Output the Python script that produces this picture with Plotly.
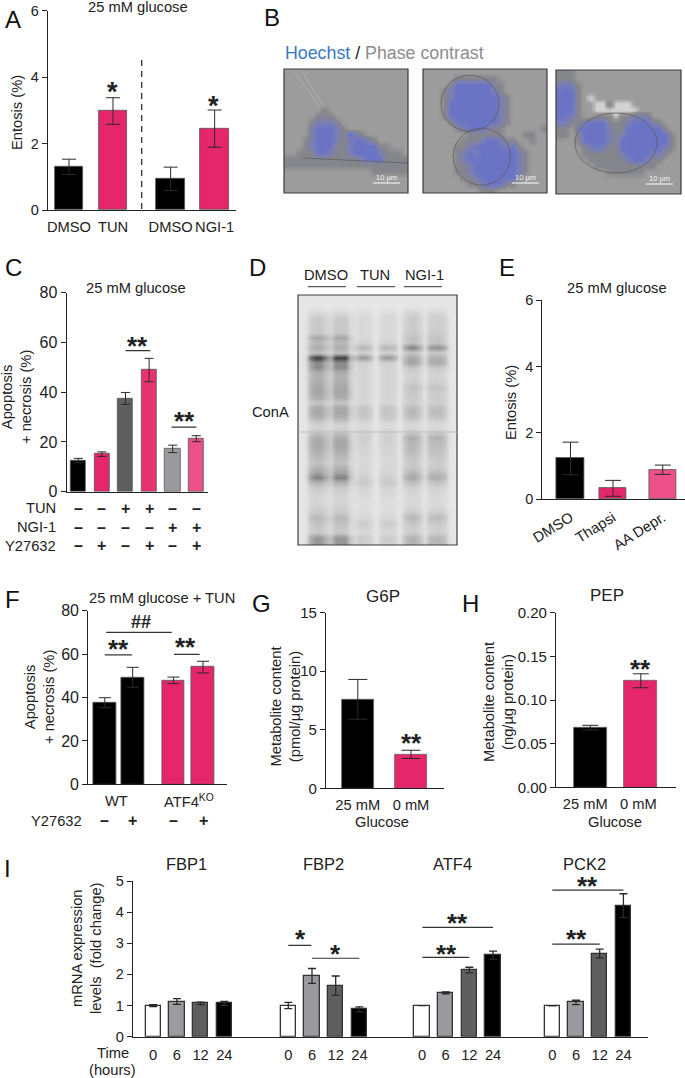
import plotly.graph_objects as go

W, H = 685, 1078
FS = 14.7
FONT = "Liberation Sans, Arial, sans-serif"
INK = "#222222"
PINK = "#E6266A"
PINK2 = "#EC5088"
GREY_D = "#5F5F5F"
GREY_L = "#9B9B9F"

# ---------- data ----------
A_labels = ["DMSO", "TUN", "DMSO", "NGI-1"]
A_values = [1.3, 2.98, 0.94, 2.45]
A_err = [0.23, 0.4, 0.35, 0.56]

C_values = [12.5, 15.1, 37.5, 48.9, 17.2, 21.3]
C_err = [0.9, 0.9, 2.4, 4.7, 1.5, 1.2]
C_TUN = ["–", "–", "+", "+", "–", "–"]
C_NGI = ["–", "–", "–", "–", "+", "+"]
C_Y27 = ["–", "+", "–", "+", "–", "+"]

E_labels = ["DMSO", "Thapsi", "AA Depr."]
E_values = [1.23, 0.33, 0.89]
E_err = [0.49, 0.24, 0.14]

F_values = [37.6, 49.3, 47.9, 54.0]
F_err = [2.3, 4.6, 1.5, 2.7]
F_Y27 = ["–", "+", "–", "+"]

G_labels = ["25 mM", "0 mM"]
G_values = [7.6, 2.9]
G_err = [1.7, 0.35]

H_labels = ["25 mM", "0 mM"]
H_values = [0.0683, 0.122]
H_err = [0.0027, 0.008]

I_times = ["0", "6", "12", "24"]
I_genes = ["FBP1", "FBP2", "ATF4", "PCK2"]
I_FBP1 = [1.0, 1.13, 1.07, 1.07]
I_FBP1_err = [0.03, 0.09, 0.04, 0.06]
I_FBP2 = [1.0, 1.95, 1.64, 0.88]
I_FBP2_err = [0.1, 0.24, 0.31, 0.08]
I_ATF4 = [1.0, 1.41, 2.14, 2.62]
I_ATF4_err = [0.0, 0.03, 0.09, 0.13]
I_PCK2 = [0.99, 1.1, 2.67, 4.21]
I_PCK2_err = [0.0, 0.07, 0.14, 0.38]

# blot: darkness of the lane groups, top to bottom
BLOT_DMSO = [0, 0, .02, .1, .18, .2, .2, .2, .42, .3, .38, .25, .9, .55, .55, .38, .35, .38, .42, .42,
             .38, .22, .4, .42, .35, .18, .12, .25, .38, .42, .4, .35, .3, .25, .35, .45, .6, .35, .2, .15,
             .12, .12, .15, .2, .3, .25, .2, .2, .5, .5]
BLOT_TUN = [0, 0, .02, .06, .1, .1, .1, .1, .1, .14, .32, .14, .5, .15, .12, .12, .12, .12, .12, .12,
            .12, .1, .22, .22, .2, .1, .08, .15, .15, .15, .12, .12, .1, .1, .1, .12, .15, .2, .12, .1,
            .08, .06, .06, .08, .1, .18, .14, .1, .18, .18]
BLOT_NGI = [0, 0, .03, .12, .18, .18, .18, .2, .25, .25, .6, .22, .4, .45, .22, .15, .15, .18, .25, .2,
            .2, .18, .28, .32, .25, .12, .1, .22, .38, .32, .3, .28, .22, .2, .22, .32, .42, .25, .15, .12,
            .1, .1, .12, .2, .32, .22, .18, .18, .35, .35]
BLOT_COL_WEIGHT = [0, .1, .8, 1, 1, .7, .5, 1, 1, 1, .4,
                   .6, 1, 1, .7, .05, .7, 1, 1, .8, .1,
                   .7, 1, 1, .7, .2, .8, .9, .9, .7, .1, 0]

# micrographs, as coarse tone maps
MICRO_1 = ["....................", "....................", "....................", "....................",
           "....................", "....................", "......o.............", ".....ooo............",
           "....obbbo...........", "....bBBBbo..........", "....bBBBboBbo.......", "...obBBBbobBBbo.....",
           "...obBBBoobBBBBoo...", "..oooBBboobBBBBbooo.", "oooooooooooobBBBoooo", "oooooooooooooooooooo",
           "..............oooooo", "....................", "....................", "...................."]
MICRO_2 = ["....................", ".....ooooooo........", "....oBBBBBBoo.......", "...obBBBBBBbo.......",
           "...obBBBBBBBbo......", "...oBBBBBBBBbo......", "...oBBBBBBBBbo......", "...oBBBBBBBBbo......",
           "....oBBBBBBBbo......", ".....obBBBboo......o", ".......oooooo...oo..", "......ooobBBboo..o..",
           ".....oobBBBBBbBo....", ".....obBbBBBBBBbo...", ".....obBBBBBBBBbo...", ".....oobBBBBBBBbo...",
           ".....oobBBBBBBBbo...", "......oobBBBBBBo....", ".......oobBBBoo.....", ".........ooo........"]
MICRO_3 = ["ooo.................", "ooo.................", "bBbo................", "BBBo................",
           "BBBo.+..............", "BBBo..++o+++........", "BBBo..+++++++.......", "BBbo..ooo+oobbb.....",
           "bboobBBBooobBBBbo...", "oo.bBBBBbooBBBBBBo..", "oo.oBBBBbobBBBBBBBo.", "...oBBBBboBBBBBBBBo.",
           "....obBbooBBBBBBBbo.", "....oooooobBBBBbbo..", ".....oooooobBBboo...", "......oooooooooo....",
           "........oooooo......", "....................", "....................", "...................."]
TONE = {"+": 0.0, ".": 0.2, "o": 0.45, "b": 0.75, "B": 1.0}

# ---------- helpers ----------
fig = go.Figure()
axis_no = [0]
annos, shapes = [], []


def fx(px):
    return px / W


def fy(py):
    return 1 - py / H


def txt(px, py, text, size=FS, angle=0, color=INK, xa="center"):
    annos.append(dict(x=fx(px), y=fy(py), xref="paper", yref="paper", text=text, showarrow=False,
                      xanchor=xa, yanchor="middle", textangle=angle,
                      font=dict(size=size, color=color, family="Liberation Sans")))


def star(px, py, text="**", size=26):
    txt(px, py + 0.13 * size, f"<b>{text}</b>", size=size)


def letter(px, py, text):
    txt(px, py, text, size=24, color="#111111")


def rim_ellipse(cx, cy, rx, ry, color="#5A5A5A", width=1):
    shapes.append(dict(type="circle", xref="paper", yref="paper", x0=fx(cx - rx), x1=fx(cx + rx),
                       y0=fy(cy + ry), y1=fy(cy - ry), line=dict(color=color, width=width), opacity=0.7))


def rim_line(x0, y0, x1, y1, color="#5A5A5A", width=1):
    shapes.append(dict(type="line", xref="paper", yref="paper", x0=fx(x0), x1=fx(x1), y0=fy(y0), y1=fy(y1),
                       line=dict(color=color, width=width), opacity=0.7))


def new_axes(L, R, T, B):
    axis_no[0] += 1
    n = axis_no[0]
    sx = "" if n == 1 else str(n)
    return (n, sx, dict(domain=[fx(L), fx(R)], anchor="y" + sx, automargin=False),
            dict(domain=[fy(B), fy(T)], anchor="x" + sx, automargin=False))


def bar_panel(L, R, T, B, x0, unit, bar_px, slots, values, err, colors, yrange, yticks, yticktext,
              cap, ticks=None, ticklabels=None, tickangle=0, line="#555555", line_w=0.8, err_w=1.0,
              yfont=14.5, ticklen=3):
    n, sx, xa, ya = new_axes(L, R, T, B)
    xa.update(range=[(L - x0) / unit, (R - x0) / unit], showline=True, linecolor=INK, linewidth=1.3,
              zeroline=False, showgrid=False, fixedrange=True,
              ticks="outside" if ticklabels else "", ticklen=ticklen, tickcolor="rgba(0,0,0,0)",
              tickmode="array", tickvals=ticks if ticks is not None else [],
              ticktext=ticklabels or [], tickangle=tickangle,
              tickfont=dict(size=FS, color=INK, family=FONT), showticklabels=bool(ticklabels))
    ya.update(range=yrange, showline=True, linecolor=INK, linewidth=1.3, zeroline=False, showgrid=False,
              ticks="outside", ticklen=5, tickwidth=1.3, tickcolor=INK, tickmode="array", tickvals=yticks,
              ticktext=yticktext, tickfont=dict(size=yfont, color=INK, family=FONT), fixedrange=True)
    fig.layout["xaxis" + sx] = xa
    fig.layout["yaxis" + sx] = ya
    fig.add_trace(go.Bar(x=slots, y=values, width=bar_px / unit, xaxis="x" + sx, yaxis="y" + sx,
                         marker=dict(color=colors, line=dict(color=line, width=line_w)),
                         error_y=dict(type="data", array=err, visible=True, color="#2a2a2a",
                                      thickness=err_w, width=cap),
                         showlegend=False, hoverinfo="skip", cliponaxis=False))
    return sx


def sig(sx, a, b, v, width=1.2):
    shapes.append(dict(type="line", xref="x" + sx, yref="y" + sx, x0=a, x1=b, y0=v, y1=v,
                       line=dict(color="#333333", width=width)))


def signs(sx, slots, row, py):
    for s, t in zip(slots, row):
        annos.append(dict(x=s, y=fy(py), xref="x" + sx, yref="paper", text=f"<b>{t}</b>", showarrow=False,
                          xanchor="center", yanchor="middle", font=dict(size=16, color=INK, family=FONT)))


def image_panel(L, R, T, B, z, colorscale, zmin, zmax):
    n, sx, xa, ya = new_axes(L, R, T, B)
    rows, cols = len(z), len(z[0])
    xa.update(range=[-0.5, cols - 0.5], visible=False, fixedrange=True)
    ya.update(range=[rows - 0.5, -0.5], visible=False, fixedrange=True)
    fig.layout["xaxis" + sx] = xa
    fig.layout["yaxis" + sx] = ya
    fig.add_trace(go.Heatmap(z=z, xaxis="x" + sx, yaxis="y" + sx, zsmooth="best", showscale=False,
                             colorscale=colorscale, zmin=zmin, zmax=zmax, hoverinfo="skip"))
    shapes.append(dict(type="rect", xref="paper", yref="paper", x0=fx(L), x1=fx(R), y0=fy(B), y1=fy(T),
                       line=dict(color="#3c3c3c", width=1.2)))


def soften(tones, k=5, r=2):
    """Enlarge a tone map k times and blur it, so the coarse map reads as a soft photograph."""
    big = [[tones[j // k][i // k] for i in range(len(tones[0]) * k)] for j in range(len(tones) * k)]
    n, m = len(big), len(big[0])
    out = []
    for j in range(n):
        row = []
        for i in range(m):
            s = c = 0
            for jj in range(max(0, j - r), min(n, j + r + 1)):
                for ii in range(max(0, i - r), min(m, i + r + 1)):
                    s += big[jj][ii]
                    c += 1
            row.append(s / c)
        out.append(row)
    return out


# ---------- A ----------
A_slots = [0, 1, 2.31, 3.31]
sxA = bar_panel(48, 236, 10.7, 210, 69, 44, 28.5, A_slots, A_values, A_err, ["#000", PINK, "#000", PINK],
                [0, 6], [0, 2, 4, 6], ["0", "2", "4", "6"], 7, A_slots, A_labels)
shapes.append(dict(type="line", xref="paper", yref="paper", x0=fx(141.7), x1=fx(141.7), y0=fy(60), y1=fy(210),
                   line=dict(color=INK, width=1.2, dash="6px,5px")))
letter(13, 19, "A")
txt(138, 7, "25 mM glucose")
txt(17, 113, "Entosis (%)", angle=-90)
star(112.7, 88, "*", 27)
star(213.3, 102, "*", 27)

# ---------- B ----------
letter(272, 18, "B")
txt(283, 53, "<span style='color:#3A78C0'>Hoechst</span> / <span style='color:#8C8C8C'>Phase contrast</span>",
    size=17.8, xa="left")
micro_scale = [[0, "#D2D2D2"], [0.2, "#9C9C9C"], [0.45, "#85858C"], [0.75, "#7A7FB4"], [1, "#6B74C4"]]
for img, (L, R, T, B), (b0, b1, by) in zip(
        [MICRO_1, MICRO_2, MICRO_3],
        [(284, 408, 69, 193), (423, 547, 69, 193), (556, 681, 70, 194)],
        [(373, 400, 183), (512, 539, 183), (646, 673, 184)]):
    image_panel(L, R, T, B, soften([[TONE[c] for c in row] for row in img]), micro_scale, 0, 1)
    shapes.append(dict(type="line", xref="paper", yref="paper", x0=fx(b0), x1=fx(b1), y0=fy(by), y1=fy(by),
                       line=dict(color="#EEEEEE", width=1.2)))
    txt((b0 + b1) / 2, by - 6, "10 µm", size=7.5, color="#F2F2F2")
# thread and thin cell outlines
rim_line(293, 70, 320, 107, color="#B8B8B8")
rim_line(301, 70, 324, 107, color="#B8B8B8")
rim_line(303, 158, 407, 163)
rim_ellipse(470, 103.3, 29, 28)
rim_ellipse(481.7, 156.7, 28.5, 28.5)
rim_ellipse(616, 143, 41, 30)

# ---------- C ----------
C_slots = [0, 1, 2, 3, 4, 5]
sxC = bar_panel(66.7, 208, 292.7, 491.7, 78.3, 23.6, 15.3, C_slots, C_values, C_err,
                ["#000", PINK, GREY_D, "#E8336F", GREY_L, PINK2],
                [0, 80], [0, 20, 40, 60, 80], ["0", "20", "40", "60", "80"], 4.5, yfont=16)
sig(sxC, 2, 3.05, 56.7)
sig(sxC, 3.95, 5, 26)
letter(13, 267, "C")
txt(136, 288, "25 mM glucose")
txt(16, 397, "Apoptosis<br>+ necrosis (%)", angle=-90)
star(137, 343)
star(184, 417.5)
for py, label, row in [(508, "TUN", C_TUN), (527, "NGI-1", C_NGI), (546, "Y27632", C_Y27)]:
    txt(58, py, label, xa="right")
    signs(sxC, C_slots, row, py)

# ---------- D ----------
letter(257, 267, "D")
blot_groups = [BLOT_DMSO] * 11 + [BLOT_TUN] * 10 + [BLOT_NGI] * 11
blot_z = [[0.05 + BLOT_COL_WEIGHT[c] * blot_groups[c][r] for c in range(len(BLOT_COL_WEIGHT))]
          for r in range(len(BLOT_DMSO))]
image_panel(298, 457, 295, 545, blot_z, [[0, "#EEEEEE"], [0.5, "#A2A2A2"], [1, "#333333"]], 0, 1)
shapes.append(dict(type="line", xref="paper", yref="paper", x0=fx(298), x1=fx(457), y0=fy(432), y1=fy(432),
                   line=dict(color="#BDBDBD", width=1)))
for cx, label, a, b in [(326, "DMSO", 308, 346), (375, "TUN", 357, 395), (424, "NGI-1", 404, 442)]:
    txt(cx, 275, label)
    shapes.append(dict(type="line", xref="paper", yref="paper", x0=fx(a), x1=fx(b), y0=fy(286.7), y1=fy(286.7),
                       line=dict(color="#333333", width=1)))
txt(270, 412, "ConA")

# ---------- E ----------
E_slots = [0, 1, 2.17]
bar_panel(542.3, 685, 300, 499.3, 570.5, 42.5, 27.5, E_slots, E_values, E_err, ["#000", PINK, PINK2],
          [0, 6], [0, 2, 4, 6], ["0", "2", "4", "6"], 8, E_slots, E_labels, tickangle=-32)
letter(507, 267, "E")
txt(617, 288, "25 mM glucose")
txt(511, 403, "Entosis (%)", angle=-90)

# ---------- F ----------
F_slots = [0, 1, 2.46, 3.52]
sxF = bar_panel(88.3, 226.7, 610.7, 784.3, 104.8, 27.9, 22.5, F_slots, F_values, F_err,
                ["#000", "#000", PINK, PINK], [0, 80], [0, 20, 40, 60, 80], ["0", "20", "40", "60", "80"], 6,
                yfont=16)
sig(sxF, 0.05, 2.4, 70)
sig(sxF, 0, 0.97, 59.6)
sig(sxF, 2.48, 3.4, 59.9)
letter(12, 599, "F")
txt(162, 598, "25 mM glucose + TUN")
txt(39, 697, "Apoptosis<br>+ necrosis (%)", angle=-90)
txt(140.5, 622, "<b>##</b>", size=18)
star(118, 646)
star(185.7, 644)
txt(116.7, 801, "WT")
txt(189, 801, "ATF4<sup>KO</sup>")
txt(84, 821, "Y27632", xa="right")
signs(sxF, F_slots, F_Y27, 820)

# ---------- G ----------
G_slots = [0, 1]
bar_panel(326, 444, 612.7, 788.3, 357.8, 53.2, 32.5, G_slots, G_values, G_err, ["#000", PINK],
          [0, 15], [0, 5, 10, 15], ["0", "5", "10", "15"], 9.5, G_slots, G_labels, line="#666666", yfont=15)
letter(261, 603, "G")
txt(382.7, 596, "G6P", size=17)
txt(382, 822, "Glucose")
txt(284.5, 707, "Metabolite content<br>(pmol/µg protein)", angle=-90)
star(411, 740)

# ---------- H ----------
H_slots = [0, 1]
bar_panel(556, 675.7, 612.7, 787.3, 590.3, 50.5, 33, H_slots, H_values, H_err, ["#000", PINK],
          [0, 0.2], [0, 0.05, 0.1, 0.15, 0.2], ["0.00", "0.05", "0.10", "0.15", "0.20"], 8,
          [-0.1, 0.95], H_labels, line="#666666", yfont=15)
letter(470, 603, "H")
txt(607, 595, "PEP", size=17)
txt(615, 822, "Glucose")
txt(498, 702, "Metabolite content<br>(ng/µg protein)", angle=-90)
star(640.7, 666)

# ---------- I ----------
I_offsets = [0, 5.7, 11.34, 16.84]
I_colors = ["#FFFFFF", GREY_L, GREY_D, "#000000"]
I_series = [I_FBP1, I_FBP2, I_ATF4, I_PCK2]
I_errs = [I_FBP1_err, I_FBP2_err, I_ATF4_err, I_PCK2_err]
I_slots, I_vals, I_e, I_c, I_t = [], [], [], [], []
for off, vals, errs in zip(I_offsets, I_series, I_errs):
    for k in range(4):
        I_slots.append(off + k)
        I_vals.append(vals[k])
        I_e.append(errs[k])
        I_c.append(I_colors[k])
        I_t.append(I_times[k])
sxI = bar_panel(133, 648, 881, 1036.7, 153.2, 23.7, 15.2, I_slots, I_vals, I_e, I_c,
                [0, 5], [0, 1, 2, 3, 4, 5], ["0", "1", "2", "3", "4", "5"], 4,
                I_slots, I_t, line="#333333", line_w=1.3, err_w=1.3, ticklen=5)
sig(sxI, 5.7, 6.67, 2.93)
sig(sxI, 6.7, 8.7, 2.52)
sig(sxI, 11.36, 13.34, 2.55)
sig(sxI, 11.36, 14.34, 3.51)
sig(sxI, 16.84, 18.84, 2.97)
sig(sxI, 16.84, 19.84, 4.71)
letter(8, 868, "I")
for cx, g in zip([186, 323.3, 452.7, 584.3], I_genes):
    txt(cx, 864, g, size=16.5)
txt(86, 949, "mRNA expression<br>levels  (fold change)", angle=-90)
txt(112.7, 1053, "Time")
txt(112.7, 1070, "(hours)")
star(300, 936, "*")
star(335.7, 951, "*")
star(446.7, 951)
star(457, 919.5)
star(576, 936)
star(587.7, 883)

fig.update_layout(template="none", width=W, height=H, autosize=False, margin=dict(l=0, r=0, t=0, b=0, pad=0),
                  paper_bgcolor="white", plot_bgcolor="rgba(0,0,0,0)", showlegend=False,
                  bargap=0, annotations=annos, shapes=shapes, font=dict(family=FONT, color=INK))
fig.write_html("out.html", config=dict(displayModeBar=False, responsive=False),
               post_script="document.body.style.margin='0';document.documentElement.style.overflow='hidden';")
